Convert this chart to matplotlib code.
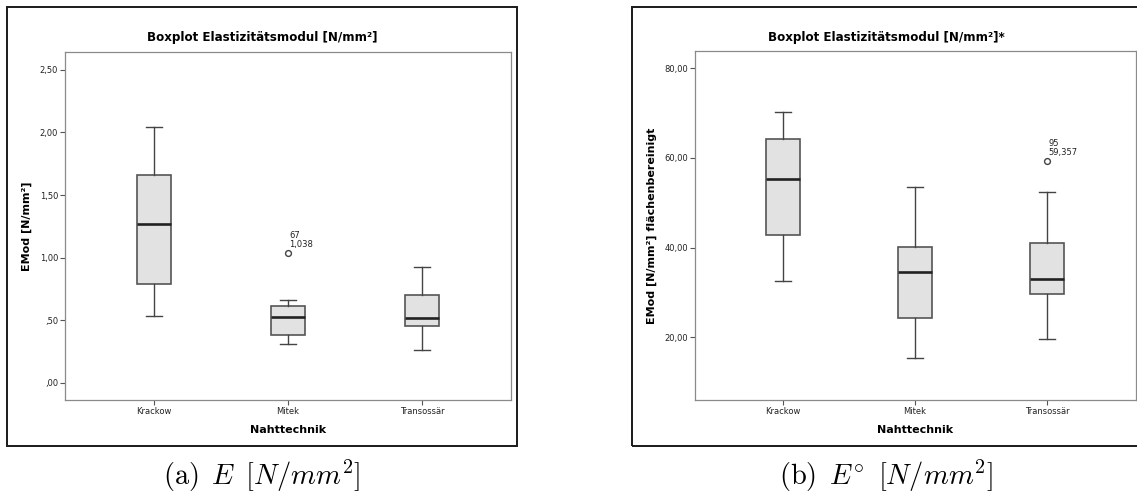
import matplotlib
matplotlib.use("Agg")
import matplotlib.pyplot as plt
from matplotlib.patches import Rectangle

# --- data ---
groups = ["Krackow", "Mitek", "Transossär"]

# (a) E [N/mm²]
e_whislo = [0.534, 0.308, 0.261]
e_q1 = [0.790, 0.382, 0.453]
e_med = [1.270, 0.524, 0.520]
e_q3 = [1.659, 0.612, 0.700]
e_whishi = [2.047, 0.662, 0.923]
e_fliers = [[], [1.038], []]
e_flier_ids = [[], ["67"], []]
e_yticks = [0.0, 0.5, 1.0, 1.5, 2.0, 2.5]
e_yticklabels = [",00", ",50", "1,00", "1,50", "2,00", "2,50"]

# (b) E° flächenbereinigt
f_whislo = [32.5, 15.3, 19.7]
f_q1 = [42.8, 24.4, 29.7]
f_med = [55.25, 34.5, 33.1]
f_q3 = [64.2, 40.1, 41.0]
f_whishi = [70.1, 53.4, 52.3]
f_fliers = [[], [], [59.357]]
f_flier_ids = [[], [], ["95"]]
f_yticks = [20, 40, 60, 80]
f_yticklabels = ["20,00", "40,00", "60,00", "80,00"]

W, H = 1137, 497
plt.rcParams["font.family"] = ["DejaVu Sans"]
plt.rcParams["mathtext.fontset"] = "cm"

BOX_FILL = "#e2e2e2"
EDGE = "#555555"
SPINE = "#8a8a8a"


def fmt_de(v):
    s = f"{v:.3f}".replace(".", ",")
    return s[1:] if s.startswith("0,") else s


def draw_panel(fig, rect, whislo, q1, med, q3, whishi, fliers, ids,
               yticks, yticklabels, ylim, xlim, title, ylabel, frame, cx_title,
               caption):
    ax = fig.add_axes(rect)
    stats = []
    for i in range(len(groups)):
        stats.append({"whislo": whislo[i], "q1": q1[i], "med": med[i],
                      "q3": q3[i], "whishi": whishi[i], "fliers": fliers[i],
                      "label": groups[i]})
    ax.bxp(stats, positions=[1, 2, 3], widths=0.255, capwidths=0.125,
           patch_artist=True,
           boxprops=dict(facecolor=BOX_FILL, edgecolor=EDGE, linewidth=1.2),
           medianprops=dict(color="#222222", linewidth=1.9),
           whiskerprops=dict(color="#444444", linewidth=1.0),
           capprops=dict(color="#444444", linewidth=1.0),
           flierprops=dict(marker="o", markersize=4.2, markerfacecolor="none",
                           markeredgecolor="#444444", markeredgewidth=1.0))
    for i in range(len(groups)):
        for v, lab in zip(fliers[i], ids[i]):
            ax.annotate(f"{lab}\n{fmt_de(v)}", (i + 1, v), xytext=(1, 4),
                        textcoords="offset pixels", ha="left", va="bottom",
                        fontsize=6, linespacing=0.95, color="#222222")
    ax.set_xlim(*xlim)
    ax.set_ylim(*ylim)
    ax.set_yticks(yticks)
    ax.set_yticklabels(yticklabels)
    ax.set_xticks([1, 2, 3])
    ax.set_xticklabels(groups)
    ax.tick_params(axis="both", direction="out", length=3.5, width=0.8,
                   color="#555555", labelsize=6, labelcolor="#222222", pad=1.5)
    for sp in ax.spines.values():
        sp.set_color(SPINE)
        sp.set_linewidth(0.9)

    x0, x1 = rect[0], rect[0] + rect[2]
    ycen = rect[1] + rect[3] / 2
    fig.text(cx_title, (H - 37) / H, title, ha="center", va="center",
             fontsize=8.6, fontweight="bold")
    fig.text((x0 + x1) / 2, (H - 430) / H, "Nahttechnik", ha="center",
             va="center", fontsize=8, fontweight="bold")
    fig.text(frame[0] + 20 / W, ycen, ylabel, rotation=90, ha="center",
             va="center", fontsize=8, fontweight="bold")
    fig.add_artist(Rectangle((frame[0], frame[1]), frame[2], frame[3],
                             transform=fig.transFigure, fill=False,
                             edgecolor="#1a1a1a", linewidth=1.4))
    fig.text(cx_title, (H - 476) / H, caption, ha="center", va="center",
             fontsize=20.5)
    return ax


fig = plt.figure(figsize=(W / 100, H / 100), dpi=100)

draw_panel(fig, [65 / W, (H - 400) / H, 446 / W, 348 / H],
           e_whislo, e_q1, e_med, e_q3, e_whishi, e_fliers, e_flier_ids,
           e_yticks, e_yticklabels, (-0.136, 2.642), (0.336, 3.664),
           "Boxplot Elastizitätsmodul [N/mm²]", "EMod [N/mm²]",
           (7 / W, (H - 446) / H, 510 / W, 439 / H), 262 / W,
           r"$\mathrm{(a)}\ \,E\ \,[N/mm^2]$")

draw_panel(fig, [695 / W, (H - 400) / H, 441 / W, 349 / H],
           f_whislo, f_q1, f_med, f_q3, f_whishi, f_fliers, f_flier_ids,
           f_yticks, f_yticklabels, (6.03, 83.8), (0.333, 3.674),
           "Boxplot Elastizitätsmodul [N/mm²]*",
           "EMod [N/mm²] flächenbereinigt",
           (632 / W, (H - 446) / H, 510 / W, 439 / H), 886 / W,
           r"$\mathrm{(b)}\ \,E^{\circ}\ \,[N/mm^2]$")

fig.savefig("out.png", dpi=100)
